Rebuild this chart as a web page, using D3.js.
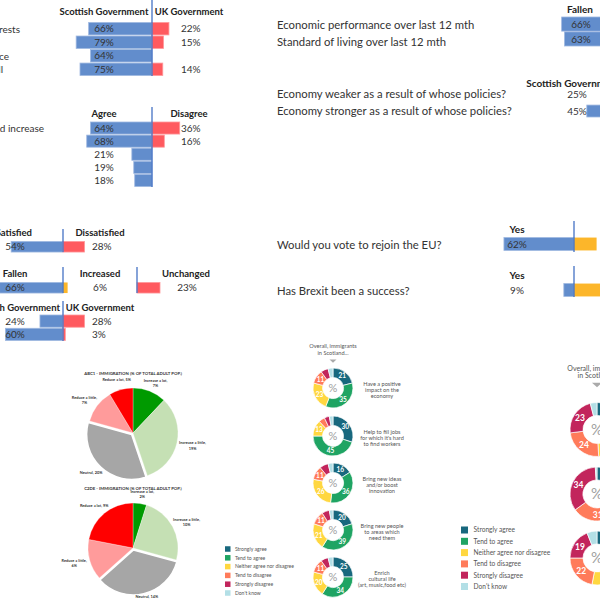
<!DOCTYPE html>
<html><head><meta charset="utf-8">
<script src="https://cdn.jsdelivr.net/npm/d3@7"></script>
<style>body{margin:0;background:#fff}svg{display:block}text{font-family:Lato,'Liberation Sans',sans-serif}</style>
</head><body><svg id="c" width="600" height="600"></svg>
<script>
// ---------------- DATA ----------------
const govRows = ["Standing up for Scotland's interests","Trusted to run the NHS","Managing public finance","Handling of education overall"];
const govScot = [66,79,64,75];
const govUK = [22,15,null,14];

const taxRows = ["Taxes on high earners should increase","Public spending should rise","Row 3","Row 4","Row 5"];
const taxAgree = [64,68,21,19,18];
const taxDisagree = [36,16,null,null,null];

const satSatisfied = [54];
const satDissatisfied = [28];
const livFallen = [66];
const livIncreased = [6];
const livUnchanged = [23];
const blameScot = [24,60];
const blameUK = [28,3];

const econRows = ["Economic performance over last 12 mth","Standard of living over last 12 mth"];
const econFallen = [66,63];
const policyRows = ["Economy weaker as a result of whose policies?","Economy stronger as a result of whose policies?"];
const policyScot = [25,45];

const euRows = ["Would you vote to rejoin the EU?","Has Brexit been a success?"];
const euYes = [62,9];
const euNo = [20,70];

const pieCats = ["Increase a lot","Increase a little","Neutral","Reduce a little","Reduce a lot"];
const pieABC1 = [7,19,20,7,5];
const pieC2DE = [2,10,14,6,9];

const donutCats = ["Strongly agree","Tend to agree","Neither agree nor disagree","Tend to disagree","Strongly disagree","Don't know"];
const posStatements = [["Have a positive","impact on the","economy"],["Help to fill jobs","for which it's hard","to find workers"],["Bring new ideas","and/or boost","innovation"],["Bring new people","to areas which","need them"],["Enrich","cultural life","(art, music,food etc)"]];
const posValues = [[21,35,23,11,6,4],[30,45,13,5,4,3],[16,36,26,11,7,4],[20,39,21,11,6,3],[25,34,20,11,6,4]];
const negValues = [[5,12,32,24,23,4],[5,15,14,31,34,1],[8,20,25,22,19,6]];

// ---------------- STYLE ----------------
const BLUE="#628dcc", BLUE_E="#9fb8e0", RED="#ff5a5f", RED_E="#ff9a9c", ORANGE="#fcb62a", DIVC="#4472c4", TXT="#333";
const pieColors = ["#009a00","#c5e0b4","#a6a6a6","#ff9b9b","#ff0000"];
const donutColors = ["#18687e","#1fa463","#ffd740","#ff7b5a","#c2255c","#b3dfe6"];

const svg = d3.select("#c");
svg.append("rect").attr("width",600).attr("height",600).attr("fill","#fff");

function band(n,y0,y1,p=0.08){return d3.scaleBand().domain(d3.range(n)).range([y0,y1]).paddingInner(p);}
const sBlue = d3.scaleLinear().domain([0,100]).range([0,96]);
const sRed = d3.scaleLinear().domain([0,100]).range([0,77]);
const sUnch = d3.scaleLinear().domain([0,100]).range([0,100]);
const sEU = d3.scaleLinear().domain([0,100]).range([0,113]);

function bars(values, {div, b, scale, side, fill, edge, labelX, anchor="middle", fs=10}){
  const data = values.map((v,i)=>({v,i})).filter(d=>d.v!=null);
  const g = svg.append("g");
  g.selectAll("rect").data(data).join("rect")
    .attr("x",d=>side<0? div-scale(d.v): div).attr("y",d=>b(d.i))
    .attr("width",d=>scale(d.v)).attr("height",b.bandwidth())
    .attr("fill",fill).attr("stroke",edge||"none").attr("stroke-width",0.8);
  if(labelX!=null) g.selectAll("text").data(data).join("text")
    .attr("x",labelX).attr("y",d=>b(d.i)+b.bandwidth()/2).attr("dy","0.36em")
    .attr("text-anchor",anchor).attr("font-size",fs).attr("fill",TXT).text(d=>d.v+"%");
}
function divider(x,y0,y1){svg.append("line").attr("x1",x).attr("x2",x).attr("y1",y0).attr("y2",y1).attr("stroke",DIVC).attr("stroke-width",1.3);}
function header(t,x,y,anchor="middle",fs=9.5){svg.append("text").attr("x",x).attr("y",y).attr("dy","0.36em").attr("text-anchor",anchor).attr("font-size",fs).attr("font-weight","bold").attr("fill","#222").text(t);}
function rowLabel(t,x,y,anchor="start",fs=11.3){svg.append("text").attr("x",x).attr("y",y).attr("dy","0.36em").attr("text-anchor",anchor).attr("font-size",fs).attr("fill",TXT).text(t);}

// ---- Panel A: Scottish vs UK government ----
{
  const div=152, b=band(4,22.5,75.5);
  const labelEnd=[20,-6,9,3];
  header("Scottish Government",div-48,12); header("UK Government",div+37,12);
  bars(govScot,{div,b,scale:sBlue,side:-1,fill:BLUE,edge:BLUE_E,labelX:div-48});
  bars(govUK,{div,b,scale:sRed,side:1,fill:RED,edge:RED_E,labelX:div+29,anchor:"start"});
  divider(div,0,76);
  govRows.forEach((t,i)=>rowLabel(t,labelEnd[i],b(i)+b.bandwidth()/2+0.5,"end",10));
}
// ---- Panel B: Agree / Disagree ----
{
  const div=152, b=band(5,122,186.5);
  header("Agree",div-48,114); header("Disagree",div+37,114);
  bars(taxAgree,{div,b,scale:sBlue,side:-1,fill:BLUE,edge:BLUE_E,labelX:div-48});
  bars(taxDisagree,{div,b,scale:sRed,side:1,fill:RED,edge:RED_E,labelX:div+29,anchor:"start"});
  divider(div,107,187);
  const labelEnd=[44,-10,-10,-10,-10];
  taxRows.forEach((t,i)=>rowLabel(t,labelEnd[i],b(i)+b.bandwidth()/2+0.5,"end",10));
}
// ---- Panel C: Satisfied / Fallen / Government ----
{
  const div=63;
  let b=band(1,241,252.5);
  header("Satisfied",32,233,"end"); header("Dissatisfied",div+37,233);
  bars(satSatisfied,{div,b,scale:sBlue,side:-1,fill:BLUE,edge:BLUE_E,labelX:div-48});
  bars(satDissatisfied,{div,b,scale:sRed,side:1,fill:RED,edge:RED_E,labelX:div+29,anchor:"start"});
  divider(div,229,252);

  b=band(1,282,293.5);
  const div2=137;
  header("Fallen",div-48,274); header("Increased",div+37,274); header("Unchanged",div2+49,274);
  bars(livFallen,{div,b,scale:sBlue,side:-1,fill:BLUE,edge:BLUE_E,labelX:div-48});
  bars(livIncreased,{div,b,scale:sRed,side:1,fill:ORANGE,labelX:div+37});
  bars(livUnchanged,{div:div2,b,scale:sUnch,side:1,fill:RED,edge:RED_E,labelX:div2+50});
  divider(div,267,293); divider(div2,267,293);

  b=band(2,315,340.5);
  header("Scottish Government",60,308,"end"); header("UK Government",div+37,308);
  bars(blameScot,{div,b,scale:sBlue,side:-1,fill:BLUE,edge:BLUE_E,labelX:div-48});
  bars(blameUK,{div,b,scale:sRed,side:1,fill:RED,edge:RED_E,labelX:div+29,anchor:"start"});
  divider(div,301,341);
}
// ---- Top right: economy ----
{
  const div=625, b=band(2,17,46,0.05);
  const ty=d3.scalePoint().domain([0,1]).range([25,41.7]);
  header("Fallen",div-45,9,"middle",10);
  bars(econFallen,{div,b,scale:sBlue,side:-1,fill:BLUE,edge:BLUE_E,labelX:div-44});
  econRows.forEach((t,i)=>rowLabel(t,277,ty(i)));
  const div2=630, b2=band(2,88,117,0.3);
  header("Scottish Government",div2-57,83.5,"middle",10);
  bars(policyScot,{div:div2,b:b2,scale:sBlue,side:-1,fill:BLUE,edge:BLUE_E,labelX:div2-53});
  policyRows.forEach((t,i)=>rowLabel(t,277,b2(i)+b2.bandwidth()/2-0.5));
}
// ---- EU panel ----
{
  const div=574;
  const rowsY=[[237,251],[283,297]], headY=[229,275], divY=[[221,252],[266,297]];
  euRows.forEach((t,i)=>{
    const b=band(1,rowsY[i][0],rowsY[i][1]);
    header("Yes",div-57,headY[i],"middle",10);
    bars([euYes[i]],{div,b,scale:sEU,side:-1,fill:BLUE,edge:BLUE_E,labelX:div-57});
    bars([euNo[i]],{div,b,scale:sEU,side:1,fill:ORANGE});
    divider(div,divY[i][0],divY[i][1]);
    rowLabel(t,277,b(0)+b.bandwidth()/2+0.5);
  });
}
// ---- Pies ----
function drawPie(values,cx,cy,title,wrap){
  const g=svg.append("g").attr("transform",`translate(${cx},${cy})`);
  const pie=d3.pie().sort(null)(values);
  const arc=d3.arc().innerRadius(0).outerRadius(45);
  const lab=d3.arc().innerRadius(55).outerRadius(55);
  g.selectAll("path").data(pie).join("path")
    .attr("d",arc).attr("fill",(d,i)=>pieColors[i])
    .attr("transform",(d,i)=>{ if(i!==2) return null; const a=(d.startAngle+d.endAngle)/2; return `translate(${2*Math.sin(a)},${-2*Math.cos(a)})`;})
    .attr("stroke","#fff").attr("stroke-width",(d,i)=>i===2?1.5:0.3);
  pie.forEach((d,i)=>{
    let [x,y]=lab.centroid(d);
    const a=(d.startAngle+d.endAngle)/2;
    x+=6*Math.sin(a);
    y=Math.min(y,cy===548?49:999);
    const t=g.append("text").attr("x",x).attr("y",y).attr("text-anchor","middle").attr("font-size",3.9).attr("font-weight","bold").attr("fill","#333");
    if(wrap[i]){t.append("tspan").attr("x",x).attr("dy","-0.1em").text(pieCats[i]+",");t.append("tspan").attr("x",x).attr("dy","1.3em").text(values[i]+"%");}
    else t.attr("dy","0.35em").text(pieCats[i]+", "+values[i]+"%");
  });
  svg.append("text").attr("x",cx).attr("y",cy-58.5).attr("text-anchor","middle").attr("font-size",4.3).attr("font-weight","bold").attr("fill","#333").text(title);
}
drawPie(pieABC1,133,433,"ABC1 - IMMIGRATION (% OF TOTAL ADULT POP.)",[true,true,false,true,false]);
drawPie(pieC2DE,133,548,"C2DE - IMMIGRATION (% OF TOTAL ADULT POP.)",[true,true,false,true,false]);

// ---- Donuts ----
function donut(values,cx,cy,ro,ri,fsLab,fsPct){
  const g=svg.append("g").attr("transform",`translate(${cx},${cy})`);
  const pie=d3.pie().sort(null)(values);
  const arc=d3.arc().innerRadius(ri).outerRadius(ro);
  g.selectAll("path").data(pie).join("path").attr("d",arc).attr("fill",(d,i)=>donutColors[i]).attr("stroke","#fff").attr("stroke-width",0.7);
  g.selectAll("text.v").data(pie.filter(d=>d.data>=10)).join("text").attr("class","v")
    .attr("x",d=>arc.centroid(d)[0]).attr("y",d=>arc.centroid(d)[1]).attr("dy","0.36em").attr("text-anchor","middle")
    .attr("font-size",fsLab).attr("font-weight","bold").attr("fill","#fff").text(d=>d.data);
  g.append("text").attr("dy","0.36em").attr("text-anchor","middle").attr("font-size",fsPct).attr("fill","#a0a0a0").text("%");
}
function donutTitle(cx,y,fs,gap,tri){
  const t=svg.append("text").attr("text-anchor","middle").attr("font-size",fs).attr("fill","#555");
  t.append("tspan").attr("x",cx).attr("y",y).text("Overall, immigrants");
  t.append("tspan").attr("x",cx).attr("y",y+gap).text("in Scotland...");
  svg.append("path").attr("d",`M${cx-tri},${y+gap+5}L${cx+tri},${y+gap+5}L${cx},${y+gap+5+tri*0.9}Z`).attr("fill","#aaa");
}
function legend(x,y0,step,size,fs){
  const g=svg.append("g");
  donutCats.forEach((c,i)=>{
    g.append("rect").attr("x",x).attr("y",y0+i*step-size/2).attr("width",size).attr("height",size).attr("fill",donutColors[i]);
    g.append("text").attr("x",x+size*1.8).attr("y",y0+i*step).attr("dy","0.36em").attr("font-size",fs).attr("fill","#555").text(c);
  });
}
// middle panel
{
  const cx=333, ys=[388,436,483,530,577];
  donutTitle(cx,348,5.6,6.5,3.5);
  posValues.forEach((v,i)=>{
    donut(v,cx,ys[i],20,10.5,6.5,11);
    const t=svg.append("text").attr("text-anchor","middle").attr("font-size",5.6).attr("fill","#555");
    posStatements[i].forEach((l,k)=>t.append("tspan").attr("x",382).attr("y",ys[i]-4+k*6+2).text(l));
  });
  legend(225,549,8.8,5.5,5.1);
}
// right panel
{
  const cx=597, ys=[429.5,494,558];
  donutTitle(cx,371,7,6.8,5);
  negValues.forEach((v,i)=>donut(v,cx,ys[i],27,14,8.5,15));
  legend(461,530,11.3,7,6.6);
}
</script></body></html>
